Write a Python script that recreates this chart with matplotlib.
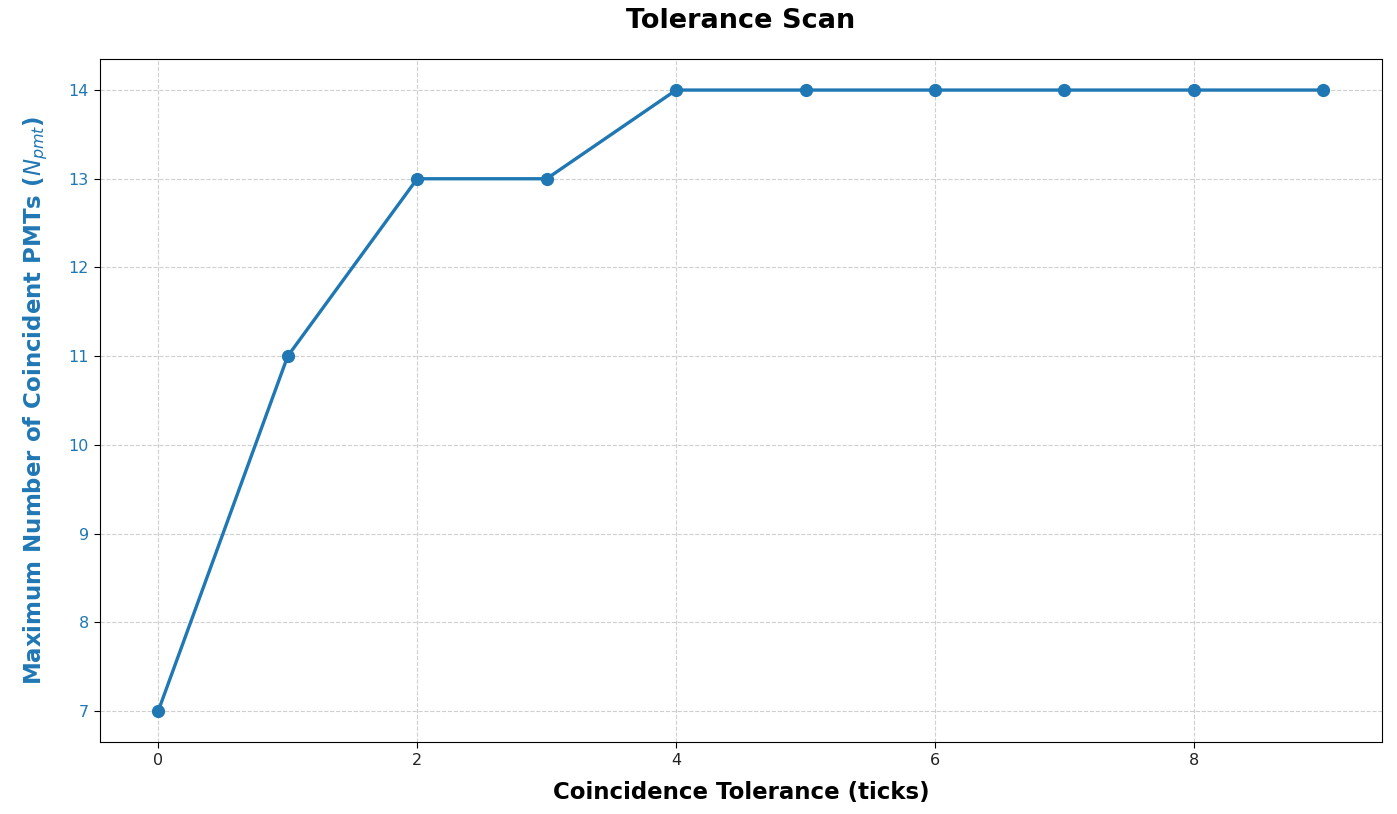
import numpy as np
import matplotlib
matplotlib.use("Agg")
import matplotlib.pyplot as plt

tolerance = [0, 1, 2, 3, 4, 5, 6, 7, 8, 9]
max_pmts = [7, 11, 13, 13, 14, 14, 14, 14, 14, 14]

color = "tab:blue"

fig = plt.figure(figsize=(13.97, 8.14), dpi=100)
ax = fig.add_axes([0.0716, 0.0885, 0.9174, 0.839])

ax.plot(tolerance, max_pmts, "o-", color=color, linewidth=2.4, markersize=8.5)

ax.set_xlabel("Coincidence Tolerance (ticks)", fontsize=16.5, fontweight="bold",
              labelpad=9)
ax.set_ylabel("Maximum Number of Coincident PMTs ($N_{pmt}$)", fontsize=16.5,
              fontweight="bold", color=color, labelpad=13)
ax.tick_params(axis="y", labelcolor=color, labelsize=11.5, length=4.5)
ax.tick_params(axis="x", labelsize=11.5, labelcolor="#222222", length=4.5)
ax.set_title("Tolerance Scan", fontsize=19.5, fontweight="bold", pad=22)
ax.grid(True, linestyle="--", alpha=0.6)

plt.savefig("out.png", dpi=100)
